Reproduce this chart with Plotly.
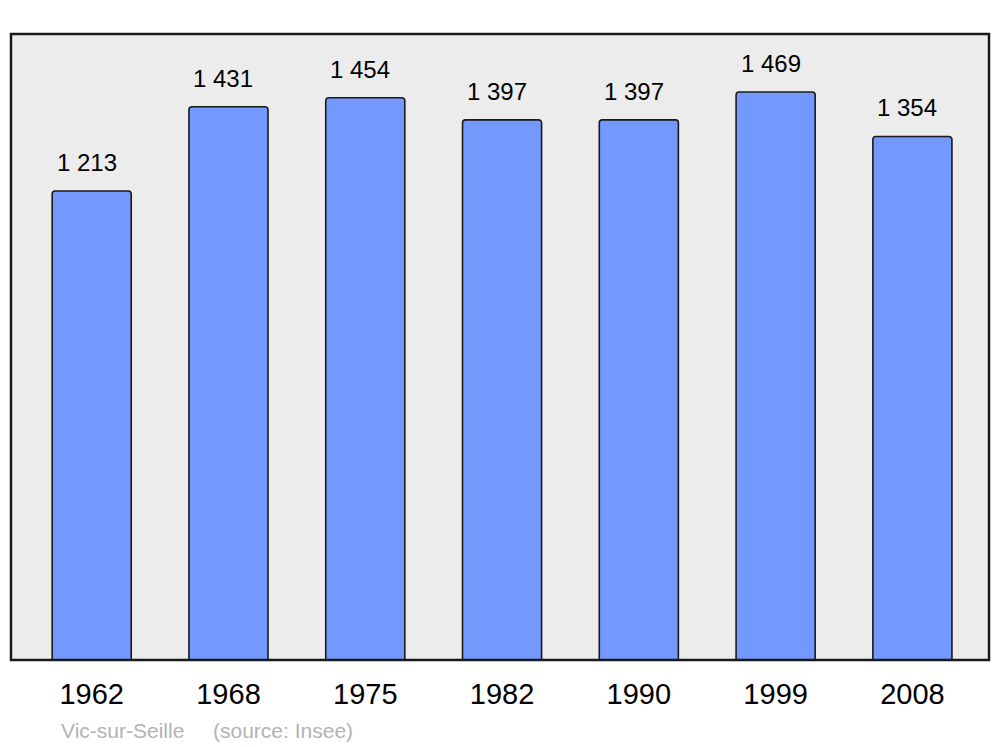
import plotly.graph_objects as go

years = ["1962", "1968", "1975", "1982", "1990", "1999", "2008"]
population = [1213, 1431, 1454, 1397, 1397, 1469, 1354]
value_labels = ["1 213", "1 431", "1 454", "1 397", "1 397", "1 469", "1 354"]
place = "Vic-sur-Seille"
source = "(source: Insee)"

FONT = "Liberation Sans, Arial, sans-serif"

fig = go.Figure()
fig.add_trace(go.Bar(
    x=years, y=population, width=0.578,
    marker=dict(color="#7399ff", line=dict(color="#1a1a1a", width=1.6), cornerradius=3),
    hoverinfo="skip",
))

for i, (v, lab) in enumerate(zip(population, value_labels)):
    fig.add_annotation(x=i, y=v, text=lab, showarrow=False, yanchor="bottom",
                       yshift=13, xshift=-5,
                       font=dict(family=FONT, size=24, color="#000000"))

fig.add_annotation(xref="paper", yref="paper", x=0.049, y=-0.112, xanchor="left", yanchor="middle",
                   text=place, showarrow=False,
                   font=dict(family=FONT, size=21, color="#b3b3b3"))
fig.add_annotation(xref="paper", yref="paper", x=0.205, y=-0.112, xanchor="left", yanchor="middle",
                   text=source, showarrow=False,
                   font=dict(family=FONT, size=21, color="#b3b3b3"))

fig.add_shape(type="rect", xref="paper", yref="paper", x0=0, x1=1, y0=0, y1=1,
              line=dict(color="#1a1a1a", width=2.5), layer="above")

fig.update_layout(
    width=992, height=739,
    margin=dict(l=3, r=11, t=26, b=87),
    paper_bgcolor="#ffffff", plot_bgcolor="#ececec",
    showlegend=False,
    xaxis=dict(type="category", range=[-0.59, 6.56], showgrid=False, zeroline=False,
               showline=False, ticks="", ticklabelstandoff=14,
               tickfont=dict(family=FONT, size=29, color="#000000")),
    yaxis=dict(range=[0, 1619], showgrid=False, zeroline=False, showticklabels=False,
               showline=False, ticks=""),
)

fig.write_html("out.html")
